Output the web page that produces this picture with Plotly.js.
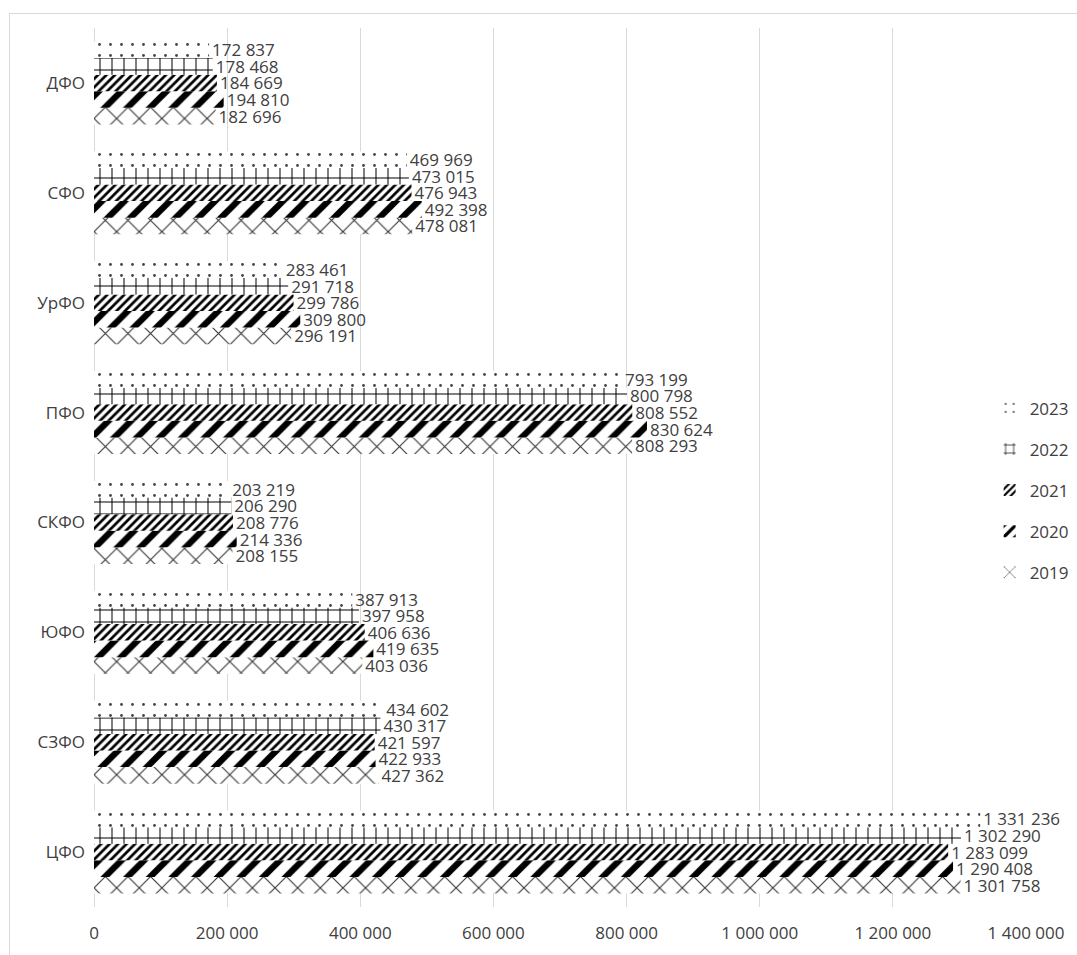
<!DOCTYPE html>
<html>
<head>
<meta charset="utf-8">
<script src="https://cdn.plot.ly/plotly-3.0.1.min.js"></script>
<style>
  html, body { margin: 0; padding: 0; background: #fff; }
  #frame { position: absolute; left: 9px; top: 13px; width: 1100px; height: 1000px; border: 1px solid #d9d9d9; }
  #chart { position: absolute; left: 0; top: 0; width: 1077px; height: 955px; }
</style>
</head>
<body>
<div id="frame"></div>
<div id="chart"></div>
<script>
const regions = ["ЦФО", "СЗФО", "ЮФО", "СКФО", "ПФО", "УрФО", "СФО", "ДФО"];
const years = ["2019", "2020", "2021", "2022", "2023"];
const v2019 = [1301758, 427362, 403036, 208155, 808293, 296191, 478081, 182696];
const v2020 = [1290408, 422933, 419635, 214336, 830624, 309800, 492398, 194810];
const v2021 = [1283099, 421597, 406636, 208776, 808552, 299786, 476943, 184669];
const v2022 = [1302290, 430317, 397958, 206290, 800798, 291718, 473015, 178468];
const v2023 = [1331236, 434602, 387913, 203219, 793199, 283461, 469969, 172837];
const tickVals = [0, 200000, 400000, 600000, 800000, 1000000, 1200000, 1400000];

const series = [v2019, v2020, v2021, v2022, v2023];
const patterns = [
  {shape: "x", size: 16, solidity: 0.14, fgcolor: "#3a3a3a"},
  {shape: "/", size: 16, solidity: 0.4, fgcolor: "#000000"},
  {shape: "/", size: 6, solidity: 0.45, fgcolor: "#000000"},
  {shape: "+", size: 12, solidity: 0.16, fgcolor: "#000000"},
  {shape: ".", size: 11, solidity: 0.05, fgcolor: "#444444"}
];
const font = "'Open Sans', 'Noto Sans', sans-serif";

const traces = series.map((vals, i) => ({
  type: "bar",
  orientation: "h",
  name: years[i],
  y: regions,
  x: vals,
  legendgroup: years[i],
  legendrank: 100 - i,
  texttemplate: "%{x:,}",
  textposition: "outside",
  constraintext: "none",
  cliponaxis: false,
  textfont: {family: font, size: 17, color: "#404040"},
  marker: {
    color: "#ffffff",
    line: {width: 0},
    pattern: Object.assign({bgcolor: "#ffffff", fillmode: "replace"}, patterns[i])
  },
  hoverinfo: "x+name"
}));

const layout = {
  width: 1077,
  height: 955,
  margin: {l: 94, r: 51, t: 28, b: 48, autoexpand: false},
  paper_bgcolor: "rgba(0,0,0,0)",
  plot_bgcolor: "rgba(0,0,0,0)",
  separators: ", ",
  barmode: "group",
  bargap: 0.245,
  bargroupgap: 0,
  font: {family: font, size: 17, color: "#595959"},
  xaxis: {
    range: [0, 1400000],
    tickvals: tickVals,
    tickformat: ",",
    showgrid: true,
    gridcolor: "#d9d9d9",
    gridwidth: 1,
    zeroline: true,
    zerolinecolor: "#d9d9d9",
    zerolinewidth: 1,
    showline: false,
    ticks: "",
    ticklabelstandoff: 14,
    tickfont: {family: font, size: 17, color: "#404040"},
    fixedrange: true
  },
  yaxis: {
    type: "category",
    showgrid: false,
    zeroline: false,
    showline: false,
    ticks: "",
    ticklabelstandoff: 8,
    tickfont: {family: font, size: 17, color: "#404040"},
    fixedrange: true
  },
  legend: {
    x: 0.961,
    xanchor: "left",
    y: 0.474,
    yanchor: "middle",
    traceorder: "grouped",
    tracegroupgap: 16,
    bgcolor: "#ffffff",
    font: {family: font, size: 17, color: "#404040"},
    itemwidth: 30
  },
  showlegend: true
};

Plotly.newPlot("chart", traces, layout, {displayModeBar: false, staticPlot: true});
</script>
</body>
</html>
